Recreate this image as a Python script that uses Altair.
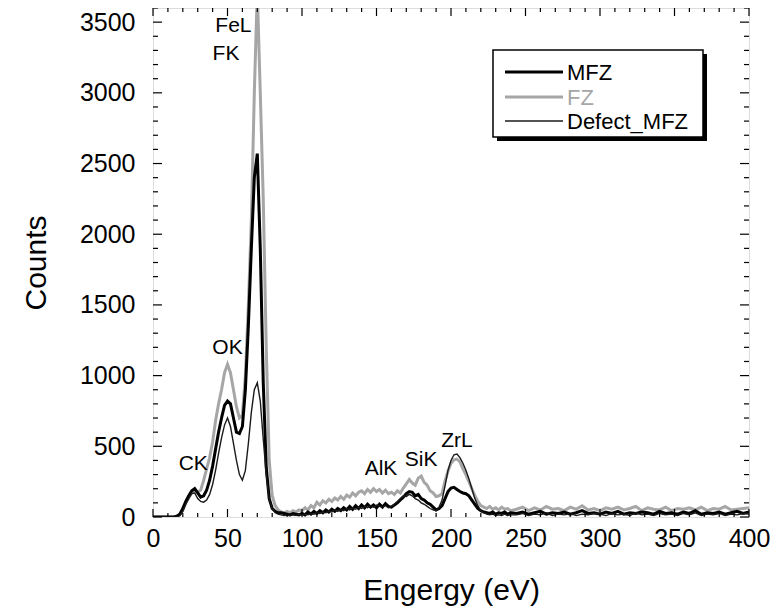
import altair as alt
import pandas as pd

# ---------------- data ----------------
energy = list(range(0, 242, 2)) + list(range(244, 401, 4))

mfz = [
    0, 0, 0, 0, 0, 0, 0, 0, 5, 20,
    60, 110, 150, 185, 200, 170, 140, 150, 190, 260,
    360, 480, 600, 700, 790, 820, 800, 700, 600, 590,
    640, 900, 1350, 1900, 2400, 2570, 1900, 950, 350, 130,
    60, 40, 30, 30, 25, 20, 15, 25, 20, 15,
    25, 15, 35, 20, 40, 25, 45, 30, 50, 35,
    55, 40, 60, 45, 65, 50, 75, 55, 80, 60,
    85, 65, 90, 70, 85, 65, 90, 70, 95, 75,
    70, 85, 100, 120, 140, 165, 180, 175, 150, 160,
    130, 120, 100, 90, 70, 50, 60, 80, 130, 180,
    205, 210, 195, 180, 170, 165, 150, 120, 90, 60,
    45, 35, 30, 25, 35, 20, 30, 25, 35, 20,
    30,
    25, 35, 20, 30, 40, 20, 30, 25, 35, 20,
    30, 45, 25, 30, 20, 35, 25, 40, 20, 30,
    25, 35, 30, 20, 40, 25, 30, 20, 35, 25,
    45, 20, 30, 25, 35, 20, 30, 40, 25, 35,
]

fz = [
    0, 0, 0, 0, 0, 0, 0, 0, 5, 20,
    50, 100, 140, 170, 180, 175, 190, 260, 340, 420,
    530, 680, 800, 900, 1020, 1080, 1020, 900, 780, 700,
    720, 1000, 1500, 2100, 3000, 3720, 3000, 2250, 1200, 400,
    150, 80, 50, 35, 30, 40, 30, 45, 35, 50,
    45, 65, 50, 80, 65, 105, 85, 115, 100, 125,
    110, 135, 120, 145, 125, 155, 140, 170, 150, 175,
    185, 165, 195, 175, 200, 180, 195, 170, 190, 165,
    175, 160, 185, 170, 205, 235, 265, 240, 225, 275,
    290, 245, 225, 185, 170, 145, 150, 165, 255, 325,
    380, 405, 410, 390, 340, 300, 250, 200, 150, 110,
    80, 70, 60, 75, 55, 65, 50, 70, 55, 60,
    45,
    55, 70, 45, 65, 50, 75, 55, 60, 45, 70,
    55, 80, 50, 60, 45, 65, 55, 70, 50, 60,
    75, 45, 65, 55, 50, 70, 45, 60, 55, 65,
    50, 70, 45, 60, 55, 75, 50, 55, 60, 65,
]

defect = [
    0, 0, 0, 0, 0, 0, 0, 0, 0, 10,
    40, 90, 130, 165, 170, 130, 110, 105, 120, 160,
    230, 330, 450, 560, 650, 700, 640, 520, 400, 300,
    260, 330, 520, 740, 900, 950, 820, 550, 300, 130,
    60, 30, 20, 15, 10, 15, 10, 15, 10, 20,
    15, 20, 15, 25, 20, 30, 25, 35, 30, 40,
    35, 50, 40, 55, 45, 60, 50, 65, 55, 70,
    60, 75, 65, 80, 70, 85, 75, 70, 80, 65,
    75, 90, 110, 130, 150, 145, 160, 150, 130, 120,
    100, 90, 75, 60, 50, 45, 70, 120, 220, 330,
    400, 440, 445, 420, 380, 330, 270, 200, 130, 80,
    45, 30, 20, 15, 20, 10, 15, 10, 20, 10,
    15,
    15, 25, 10, 20, 15, 30, 10, 20, 15, 25,
    10, 20, 15, 25, 20, 10, 25, 15, 20, 10,
    30, 15, 20, 10, 25, 15, 20, 10, 25, 15,
    30, 10, 20, 15, 25, 10, 20, 15, 25, 20,
]

peak_labels = ["FeL", "FK", "OK", "CK", "AlK", "SiK", "ZrL"]
peak_label_e = [54, 49, 50, 27, 153, 180, 204]
peak_label_c = [3470, 3275, 1195, 375, 340, 400, 540]

x_ticks = [0, 50, 100, 150, 200, 250, 300, 350, 400]
y_ticks = [0, 500, 1000, 1500, 2000, 2500, 3000, 3500]
x_minor = [v for v in range(0, 401, 10) if v % 50 != 0]
y_minor = [v for v in range(0, 3601, 100) if v % 500 != 0]

series_names = ["MFZ", "FZ", "Defect_MFZ"]

# ---------------- chart ----------------
W, H = 596, 509
FONT = "Liberation Sans"

xs = alt.Scale(domain=[0, 400], nice=False, zero=False)
ys = alt.Scale(domain=[0, 3600], nice=False, zero=False)

x_axis = alt.Axis(values=x_ticks, ticks=False, domain=False, grid=False, format="d",
                  labelFontSize=25, labelFont=FONT, labelColor="black",
                  labelPadding=9, labelFlush=False, labelOverlap=False,
                  title="Engergy (eV)", titleFontSize=30, titleFont=FONT,
                  titleFontWeight="normal", titleColor="black", titlePadding=24)
y_axis = alt.Axis(values=y_ticks, ticks=False, domain=False, grid=False, format="d",
                  labelFontSize=25, labelFont=FONT, labelColor="black",
                  labelPadding=18, labelFlush=False, labelOverlap=False,
                  title="Counts", titleFontSize=30, titleFont=FONT,
                  titleFontWeight="normal", titleColor="black", titlePadding=28)

X = alt.X("E:Q", scale=xs, axis=x_axis)
Y = alt.Y("C:Q", scale=ys, axis=y_axis)


def series_df(vals):
    return pd.DataFrame({"E": energy, "C": vals})


fz_line = alt.Chart(series_df(fz)).mark_line(color="#a6a6a6", strokeWidth=3, clip=True).encode(x=X, y=Y)
mfz_line = alt.Chart(series_df(mfz)).mark_line(color="black", strokeWidth=3, clip=True).encode(x=X, y=Y)
def_line = alt.Chart(series_df(defect)).mark_line(color="#1a1a1a", strokeWidth=1.4, clip=True).encode(x=X, y=Y)

ann = alt.Chart(pd.DataFrame({"E": peak_label_e, "C": peak_label_c, "t": peak_labels})).mark_text(
    font=FONT, fontSize=21, color="black", align="center", baseline="middle"
).encode(x=X, y=Y, text="t:N")

# inward ticks on all four sides
xt_major = pd.DataFrame({"E": x_ticks})
xt_minor = pd.DataFrame({"E": x_minor})
yt_major = pd.DataFrame({"C": y_ticks})
yt_minor = pd.DataFrame({"C": y_minor})

tick_layers = []
for df, L in [(xt_major, 8), (xt_minor, 4)]:
    tick_layers.append(alt.Chart(df).mark_rule(color="black", strokeWidth=1.2).encode(
        x=X, y=alt.value(H), y2=alt.value(H - L)))
    tick_layers.append(alt.Chart(df).mark_rule(color="black", strokeWidth=1.2).encode(
        x=X, y=alt.value(0), y2=alt.value(L)))
for df, L in [(yt_major, 9), (yt_minor, 5)]:
    tick_layers.append(alt.Chart(df).mark_rule(color="black", strokeWidth=1.2).encode(
        y=Y, x=alt.value(0), x2=alt.value(L)))
    tick_layers.append(alt.Chart(df).mark_rule(color="black", strokeWidth=1.2).encode(
        y=Y, x=alt.value(W), x2=alt.value(W - L)))

# manual legend box
one = pd.DataFrame({"k": [0]})
lx0, lx1, ly0, ly1 = 340, 550, 42, 129
shadow = alt.Chart(one).mark_rect(color="black").encode(
    x=alt.value(lx0 + 4), x2=alt.value(lx1 + 4), y=alt.value(ly0 + 4), y2=alt.value(ly1 + 4))
box = alt.Chart(one).mark_rect(fill="white", stroke="black", strokeWidth=1.5).encode(
    x=alt.value(lx0), x2=alt.value(lx1), y=alt.value(ly0), y2=alt.value(ly1))

leg_layers = [shadow, box]
leg_style = [("black", 3, "black", 64), ("#a6a6a6", 3, "#a6a6a6", 89), ("#1a1a1a", 1.4, "black", 113)]
for name, (col, sw, tcol, yy) in zip(series_names, leg_style):
    leg_layers.append(alt.Chart(one).mark_rule(color=col, strokeWidth=sw).encode(
        x=alt.value(352), x2=alt.value(410), y=alt.value(yy)))
    leg_layers.append(alt.Chart(one).mark_text(
        text=name, font=FONT, fontSize=22, color=tcol, align="left", baseline="middle").encode(
        x=alt.value(414), y=alt.value(yy + 1)))

chart = alt.layer(
    fz_line, mfz_line, def_line, ann, *tick_layers, *leg_layers
).properties(
    width=W, height=H,
    autosize=alt.AutoSizeParams(type="none"),
    padding={"left": 145, "top": 0, "right": 21, "bottom": 96},
).configure_view(
    stroke="black", strokeWidth=1.5
).configure(background="white")

chart.save("out.html", embed_options={"renderer": "svg", "actions": False})
